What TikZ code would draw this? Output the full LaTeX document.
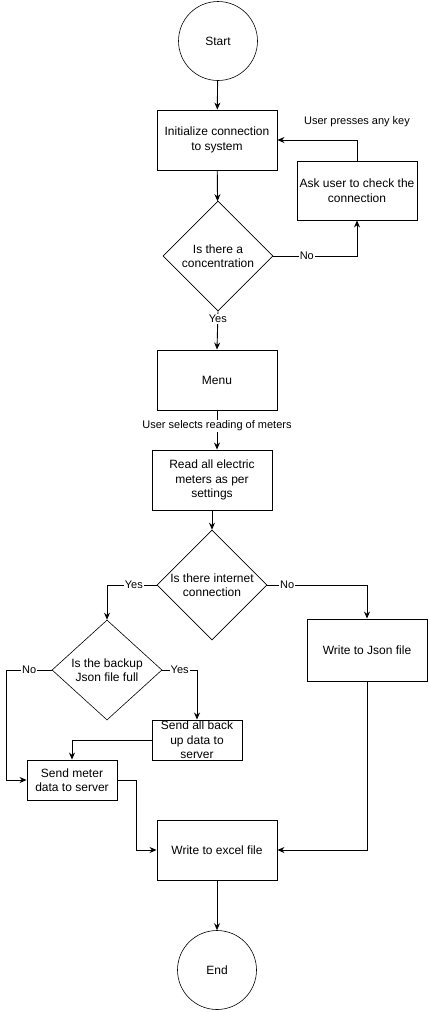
\documentclass[tikz,border=0pt]{standalone}
\usepackage{fontspec}
\setmainfont{Liberation Sans}
\usetikzlibrary{shapes.geometric,arrows.meta,calc}

\begin{document}
\begin{tikzpicture}[x=1pt, y=-1pt, line width=0.9pt,
        proc/.style={draw, rectangle, align=center, minimum width=120pt, minimum height=60pt, inner sep=2pt, font=\fontsize{12}{14.5}\selectfont},
        decision/.style={draw, diamond, align=center, inner sep=0pt, line width=0.6pt, minimum width=110pt, minimum height=110pt, font=\fontsize{12}{14.5}\selectfont},
        term/.style={draw, circle, line width=0.6pt, minimum size=79pt, font=\fontsize{12}{14.5}\selectfont},
        arr/.style={-{Stealth[length=7pt, width=6pt]}},
        lbl/.style={fill=white, inner sep=1pt, font=\fontsize{11}{13}\selectfont}]
        \useasboundingbox (0,0) rectangle (429,1012);

        \node[term] (start) at (218,41) {Start};
        \node[proc] (init) at (217,140) {Initialize connection\\to system};
        \node[proc, minimum height=59pt] (ask) at (357,190.5) {Ask user to check the\\connection};
        \node[decision] (conc) at (218,256) {Is there a\\concentration};
        \node[proc] (menu) at (217,380) {Menu};
        \node[proc] (read) at (212,480) {Read all electric\\meters as per\\settings};
        \node[decision] (inet) at (212,585) {Is there internet\\connection};
        \node[proc, minimum height=62pt] (json) at (367,650) {Write to Json file};
        \node[decision, minimum height=100pt] (backup) at (107,670) {Is the backup\\Json file full};
        \node[proc, minimum width=90pt, minimum height=40pt,
              label={[align=center, font=\fontsize{12}{14.5}\selectfont]center:{Send all back\\up data to\\server}}] (sendall) at (197,740) {};
        \node[proc, minimum width=90pt, minimum height=40pt] (sendmeter) at (72,780) {Send meter\\data to server};
        \node[proc] (excel) at (217,850) {Write to excel file};
        \node[term] (finish) at (217,970) {End};

        % main line
        \draw[arr] (start) -- (init);
        \draw[arr] (init) -- (conc);
        \draw[arr] (conc.east) -| node[lbl, pos=0.2] {No} (ask.south);
        \draw[arr] (ask.north) |- node[lbl, pos=0.5, above=12pt, fill=none] {User presses any key} (init.east);
        \draw[arr] (conc.south) -- node[lbl, pos=0.2] {Yes} (menu.north);
        \draw[arr] (menu.south) -- node[lbl, pos=0.4] {User selects reading of meters} (menu.south |- read.north);
        \draw[arr] (read.south) -- (inet.north);

        % branches
        \draw[arr] (inet.west) -| node[lbl, pos=0.23] {Yes} (backup.north);
        \draw[arr] (inet.east) -| node[lbl, pos=0.1] {No} (json.north);
        \draw[arr] (backup.west) -| node[lbl, pos=0.25] {No} ($(sendmeter.west)+(-20,0)$) -- (sendmeter.west);
        \draw[arr] (backup.east) -| node[lbl, pos=0.25] {Yes} (sendall.north);
        \draw[arr] (sendall.west) -| (sendmeter.north);
        \draw[arr] (sendmeter.east) -| ($(excel.west)+(-20,0)$) -- (excel.west);
        \draw[arr] (json.south) |- (excel.east);
        \draw[arr] (excel) -- (finish);
\end{tikzpicture}
\end{document}
